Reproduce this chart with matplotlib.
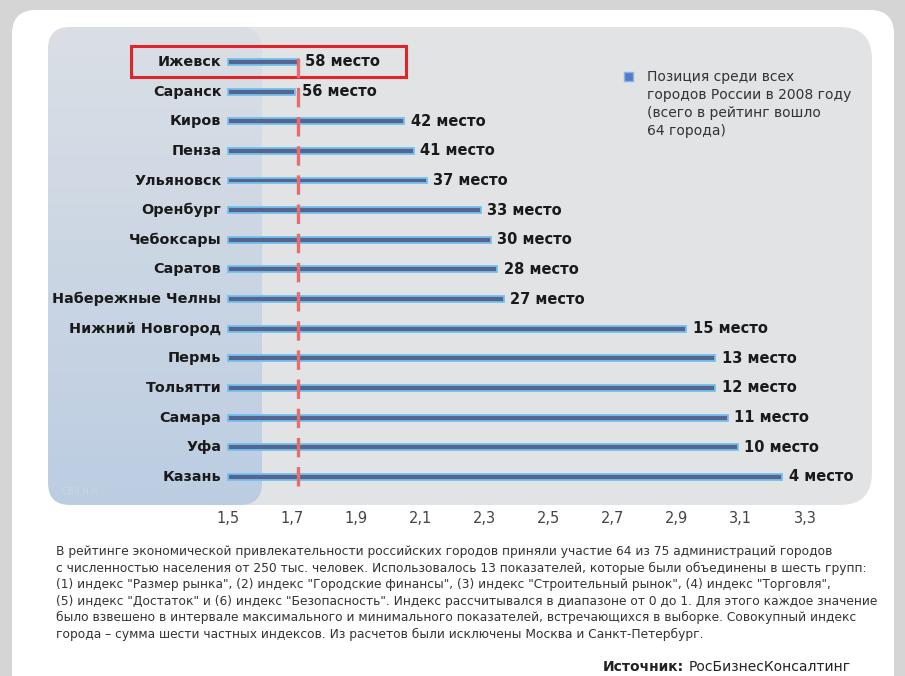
import matplotlib
matplotlib.use("Agg")
import matplotlib.pyplot as plt
import numpy as np
from matplotlib.patches import FancyBboxPatch, Rectangle
from matplotlib.colors import LinearSegmentedColormap

cities = ["Ижевск", "Саранск", "Киров", "Пенза", "Ульяновск", "Оренбург",
          "Чебоксары", "Саратов", "Набережные Челны", "Нижний Новгород",
          "Пермь", "Тольятти", "Самара", "Уфа", "Казань"]
index_values = [1.72, 1.71, 2.05, 2.08, 2.12, 2.29, 2.32, 2.34, 2.36,
                2.93, 3.02, 3.02, 3.06, 3.09, 3.23]
places = [58, 56, 42, 41, 37, 33, 30, 28, 27, 15, 13, 12, 11, 10, 4]
x_ticks = [1.5, 1.7, 1.9, 2.1, 2.3, 2.5, 2.7, 2.9, 3.1, 3.3]
reference_line = 1.72
base_value = 1.5

legend_text = ("Позиция среди всех\nгородов России в 2008 году\n"
               "(всего в рейтинг вошло\n64 города)")
note_lines = [
    "В рейтинге экономической привлекательности российских городов приняли участие 64 из 75 администраций городов",
    "с численностью населения от 250 тыс. человек. Использовалось 13 показателей, которые были объединены в шесть групп:",
    "(1) индекс \"Размер рынка\", (2) индекс \"Городские финансы\", (3) индекс \"Строительный рынок\", (4) индекс \"Торговля\",",
    "(5) индекс \"Достаток\" и (6) индекс \"Безопасность\". Индекс рассчитывался в диапазоне от 0 до 1. Для этого каждое значение",
    "было взвешено в интервале максимального и минимального показателей, встречающихся в выборке. Совокупный индекс",
    "города – сумма шести частных индексов. Из расчетов были исключены Москва и Санкт-Петербург.",
]

plt.rcParams["font.family"] = ["DejaVu Sans"]
plt.rcParams["lines.scale_dashes"] = False

W, H = 905, 676
fig = plt.figure(figsize=(W / 100, H / 100), dpi=100)

# background canvas in pixel units
bg = fig.add_axes([0, 0, 1, 1], zorder=0)
bg.set_xlim(0, W)
bg.set_ylim(H, 0)
bg.axis("off")
bg.add_patch(Rectangle((0, 0), W, H, facecolor="#d5d5d5", edgecolor="none"))
bg.add_patch(FancyBboxPatch((12, 10), 882, 720, boxstyle="round,pad=0,rounding_size=24",
                            facecolor="white", edgecolor="none"))
# grey plot panel
bg.add_patch(FancyBboxPatch((48, 27), 824, 478, boxstyle="round,pad=0,rounding_size=32",
                            facecolor="#e2e3e5", edgecolor="none"))
# blue-ish left panel with vertical gradient
blue_panel = FancyBboxPatch((48, 27), 214, 478, boxstyle="round,pad=0,rounding_size=22",
                            facecolor="none", edgecolor="none")
bg.add_patch(blue_panel)
grad = np.linspace(0, 1, 256).reshape(-1, 1)
cmap = LinearSegmentedColormap.from_list("panel", ["#dadfe5", "#bccde2"])
im = bg.imshow(grad, cmap=cmap, extent=(48, 262, 505, 27), aspect="auto", zorder=1)
im.set_clip_path(blue_panel)
bg.text(62, 492, "CBR N-N", fontsize=6, color="#c9d5e4", va="center")

# red frame around Izhevsk
bg.add_patch(Rectangle((131, 46), 275, 31, facecolor="none", edgecolor="#e0252a",
                       linewidth=2.2, zorder=3))

# legend
bg.add_patch(Rectangle((624, 72), 9, 9, facecolor="#5a78c8", edgecolor="#7fb6e8",
                       linewidth=1, zorder=3))
bg.text(647, 70, legend_text, fontsize=10, color="#333333", va="top", ha="left",
        linespacing=1.35)

# note text
for i, line in enumerate(note_lines):
    bg.text(56, 552 + i * 16.4, line, fontsize=8.8, color="#333333", va="center", ha="left")
src = bg.text(603, 674, "Источник:", fontsize=10, fontweight="bold", color="#222222",
              va="bottom", ha="left")
bg.annotate("РосБизнесКонсалтинг", xy=(1, 0), xycoords=src, xytext=(3, 0),
            textcoords="offset points", fontsize=10, color="#222222",
            va="bottom", ha="left")

# main chart
ax = fig.add_axes([48 / W, (H - 505) / H, 824 / W, 478 / H], zorder=2)
ax.patch.set_alpha(0)
y = np.arange(len(cities))
widths = [v - base_value for v in index_values]
ax.barh(y, widths, left=base_value, height=0.2, color="#56648f",
        edgecolor="#70c2ee", linewidth=1.3, zorder=3)
ax.axvline(reference_line, ymin=0.04, ymax=0.95, color="#ea6b6b", linewidth=2.4,
           dashes=(14, 7), zorder=4)

for yi, city in zip(y, cities):
    ax.text(1.48, yi, city, ha="right", va="center", fontsize=10.4,
            fontweight="bold", color="#1a1a1a")
for yi, v, p in zip(y, index_values, places):
    ax.text(v + 0.02, yi, f"{p} место", ha="left", va="center", fontsize=10.5,
            fontweight="bold", color="#1a1a1a")

ax.set_xlim(1.5 - 180 / 321, 1.5 + 645 / 321)
ax.set_ylim(14.95, -1.18)
ax.set_xticks(x_ticks)
ax.set_xticklabels([f"{t:.1f}".replace(".", ",") for t in x_ticks], fontsize=10.5,
                   color="#444444")
ax.tick_params(axis="x", length=0, pad=4)
ax.set_yticks([])
for s in ax.spines.values():
    s.set_visible(False)

fig.savefig("out.png", dpi=100)
